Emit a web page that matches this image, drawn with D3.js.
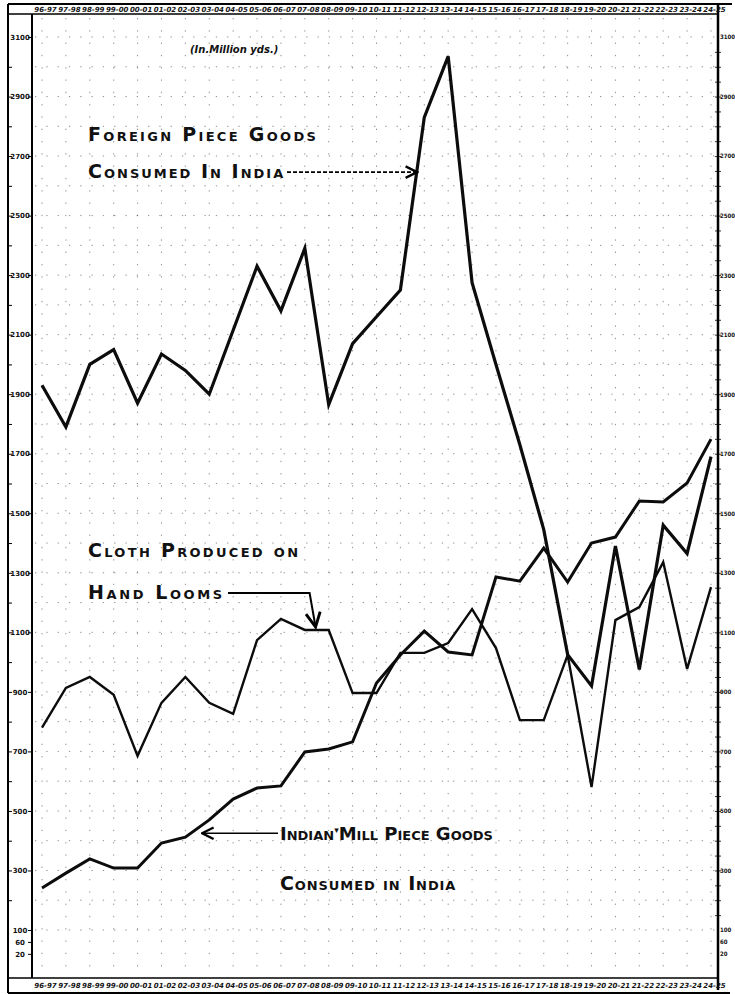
<!DOCTYPE html>
<html>
<head>
<meta charset="utf-8">
<script src="https://cdn.jsdelivr.net/npm/d3@7"></script>
<style>
  body { margin: 0; background: #fff; }
  svg text { font-family: "DejaVu Sans", sans-serif; fill: #111; }
  .lbl { font-weight: bold; font-variant: small-caps; }
  .tick text { font-weight: bold; }
</style>
</head>
<body>
<div id="chart"></div>
<script>
// fiscal years, 1896-97 .. 1924-25
var years = ["96-97", "97-98", "98-99", "99-00", "00-01", "01-02", "02-03", "03-04", "04-05", "05-06",
             "06-07", "07-08", "08-09", "09-10", "10-11", "11-12", "12-13", "13-14", "14-15", "15-16",
             "16-17", "17-18", "18-19", "19-20", "20-21", "21-22", "22-23", "23-24", "24-25"];

// million yards
var foreign = [1930, 1790, 2000, 2050, 1870, 2035, 1980, 1900, 2115, 2330,
               2180, 2390, 1865, 2070, 2160, 2250, 2830, 3035, 2275, 2000,
               1730, 1445, 1025, 920, 1390, 975, 1460, 1365, 1690];

var handLoom = [780, 913, 950, 890, 685, 863, 950, 863, 826, 1074,
                1145, 1108, 1108, 896, 896, 1031, 1031, 1064, 1178, 1047,
                805, 805, 1024, 580, 1141, 1185, 1336, 977, 1252];

var mill = [241, 291, 339, 308, 308, 392, 412, 470, 540, 577,
            584, 698, 708, 732, 930, 1024, 1104, 1034, 1024, 1286,
            1272, 1383, 1269, 1400, 1420, 1541, 1538, 1602, 1749];

var yTicks = [3100, 2900, 2700, 2500, 2300, 2100, 1900, 1700, 1500, 1300, 1100, 900, 700, 500, 300, 100];
var lowTicks = [60, 20];

var width = 735,
    height = 994,
    frame = { left: 8, inner: 32, right: 718, top: 4, topIn: 14, bottomIn: 978, bottom: 993 };

var svg = d3.select("#chart")
    .append("svg")
    .attr("width", width)
    .attr("height", height);

svg.append("rect").attr("width", width).attr("height", height).attr("fill", "#fff");

var x = d3.scalePoint()
    .domain(years)
    .range([42, 711]);

var xi = d3.scaleLinear()
    .domain([0, years.length - 1])
    .range([42, 711]);

var y = d3.scaleLinear()
    .domain([100, 3100])
    .range([930, 37]);

// dotted graph paper
var grid = svg.append("g").attr("stroke", "#333").attr("stroke-opacity", 0.55);
grid.selectAll(".hg")
    .data(d3.range(100, 3101, 100))
    .join("line")
    .attr("x1", frame.inner + 3).attr("x2", frame.right - 2)
    .attr("y1", d => y(d)).attr("y2", d => y(d))
    .attr("stroke-dasharray", "1.3,10");
grid.selectAll(".vg")
    .data(years)
    .join("line")
    .attr("x1", d => x(d)).attr("x2", d => x(d))
    .attr("y1", frame.topIn + 4).attr("y2", frame.bottomIn - 4)
    .attr("stroke-dasharray", "1.3,11");

// frame
var fr = svg.append("g").attr("stroke", "#000").attr("fill", "none");
fr.append("line").attr("x1", frame.left).attr("x2", 732).attr("y1", frame.top).attr("y2", frame.top).attr("stroke-width", 2);
fr.append("line").attr("x1", frame.left).attr("x2", frame.right).attr("y1", frame.topIn).attr("y2", frame.topIn).attr("stroke-width", 1.5);
fr.append("line").attr("x1", frame.left).attr("x2", frame.right).attr("y1", frame.bottomIn).attr("y2", frame.bottomIn).attr("stroke-width", 1.5);
fr.append("line").attr("x1", frame.left).attr("x2", 730).attr("y1", frame.bottom).attr("y2", frame.bottom).attr("stroke-width", 2);
fr.append("line").attr("x1", frame.left).attr("x2", frame.left).attr("y1", frame.top).attr("y2", frame.bottom).attr("stroke-width", 2);
fr.append("line").attr("x1", frame.inner).attr("x2", frame.inner).attr("y1", frame.topIn).attr("y2", frame.bottomIn).attr("stroke-width", 2);
fr.append("line").attr("x1", frame.right).attr("x2", frame.right).attr("y1", frame.top).attr("y2", 990).attr("stroke-width", 2.5);

// left scale strip
var leftAxis = svg.append("g")
    .attr("transform", "translate(" + frame.inner + ",0)")
    .call(d3.axisLeft(y).tickValues(yTicks.concat(lowTicks)).tickSize(4).tickFormat(d3.format("d")));
leftAxis.select(".domain").remove();
leftAxis.selectAll("text")
    .attr("x", -12)
    .attr("text-anchor", "middle")
    .style("font-size", "7px");

var leftMinor = svg.append("g")
    .attr("transform", "translate(" + frame.left + ",0)")
    .call(d3.axisRight(y).tickValues(d3.range(200, 3100, 100)).tickSize(4).tickFormat(""));
leftMinor.select(".domain").remove();

// right scale
var rightAxis = svg.append("g")
    .attr("transform", "translate(" + frame.right + ",0)")
    .call(d3.axisRight(y).tickValues(yTicks.concat(lowTicks)).tickSize(0).tickPadding(2).tickFormat(d3.format("d")));
rightAxis.select(".domain").remove();
rightAxis.selectAll("text")
    .style("font-family", "'DejaVu Sans Condensed', 'DejaVu Sans', sans-serif")
    .style("font-size", "6px");

var rightMinor = svg.append("g")
    .attr("transform", "translate(" + (frame.right - 3) + ",0)")
    .call(d3.axisRight(y).tickValues(d3.range(150, 3100, 50)).tickSize(6).tickFormat(""));
rightMinor.select(".domain").remove();
rightMinor.selectAll("line").attr("stroke-width", 0.8);

// year rows, top and bottom
svg.append("g")
    .attr("transform", "translate(3," + 12 + ")")
    .call(d3.axisTop(x).tickSize(0).tickPadding(0))
    .call(g => g.select(".domain").remove())
    .selectAll("text")
    .style("font-size", "7px")
    .style("font-style", "italic")
    .style("font-weight", "bold");

svg.append("g")
    .attr("transform", "translate(3," + 983 + ")")
    .call(d3.axisBottom(x).tickSize(0).tickPadding(0))
    .call(g => g.select(".domain").remove())
    .selectAll("text")
    .style("font-size", "7px")
    .style("font-style", "italic")
    .style("font-weight", "bold");

// series
var line = d3.line()
    .x((d, i) => xi(i))
    .y(d => y(d));

var series = [
    { name: "foreign", values: foreign, w: 3.2 },
    { name: "handloom", values: handLoom, w: 2.4 },
    { name: "mill", values: mill, w: 3 }
];

svg.append("g")
    .selectAll("path")
    .data(series)
    .join("path")
    .attr("d", d => line(d.values))
    .attr("fill", "none")
    .attr("stroke", "#0c0c0c")
    .attr("stroke-width", d => d.w)
    .attr("stroke-linejoin", "miter");

// arrow head
svg.append("defs").append("marker")
    .attr("id", "arr")
    .attr("viewBox", "0 0 10 10")
    .attr("refX", 9).attr("refY", 5)
    .attr("markerWidth", 9).attr("markerHeight", 9)
    .attr("orient", "auto-start-reverse")
    .append("path")
    .attr("d", "M1,1 L9,5 L1,9")
    .attr("fill", "none")
    .attr("stroke", "#000")
    .attr("stroke-width", 1.6);

// labels
var notes = svg.append("g");

notes.append("text").attr("x", 190).attr("y", 53)
    .style("font-size", "10px").style("font-weight", "bold").style("font-style", "italic")
    .text("(In.Million yds.)");

function label(txt, lx, ly, size, ls) {
    notes.append("text")
        .attr("class", "lbl")
        .attr("x", lx).attr("y", ly)
        .style("font-size", size + "px")
        .style("letter-spacing", ls + "px")
        .text(txt);
}

label("Foreign Piece Goods", 88, 141, 19, 2.3);
label("Consumed In India", 88, 178, 19, 2.0);
label("Cloth Produced on", 88, 557, 19, 2.3);
label("Hand Looms", 88, 599, 19, 2.6);
label("Consumed in India", 280, 890, 19, 0.9);

var mt = notes.append("text").attr("class", "lbl").attr("x", 280).attr("y", 840)
    .style("font-size", "18px").style("letter-spacing", "0px");
mt.append("tspan").text("Indian");
mt.append("tspan").text("\u25BE").style("font-size", "9px").attr("dy", -7);
mt.append("tspan").text("Mill Piece Goods").attr("dy", 7);

// pointers
notes.append("line")
    .attr("x1", 287).attr("y1", y(2646))
    .attr("x2", xi(15.7)).attr("y2", y(2646))
    .attr("stroke", "#000").attr("stroke-width", 1.6)
    .attr("stroke-dasharray", "4,2")
    .attr("marker-end", "url(#arr)");

notes.append("path")
    .attr("d", "M228," + y(1232) + " L" + xi(11.2) + "," + y(1232) + " L" + xi(11.45) + "," + y(1118))
    .attr("fill", "none")
    .attr("stroke", "#000").attr("stroke-width", 2)
    .attr("marker-end", "url(#arr)");

notes.append("line")
    .attr("x1", 278).attr("y1", y(425))
    .attr("x2", xi(6.7)).attr("y2", y(425))
    .attr("stroke", "#000").attr("stroke-width", 1.6)
    .attr("marker-end", "url(#arr)");
</script>
</body>
</html>
